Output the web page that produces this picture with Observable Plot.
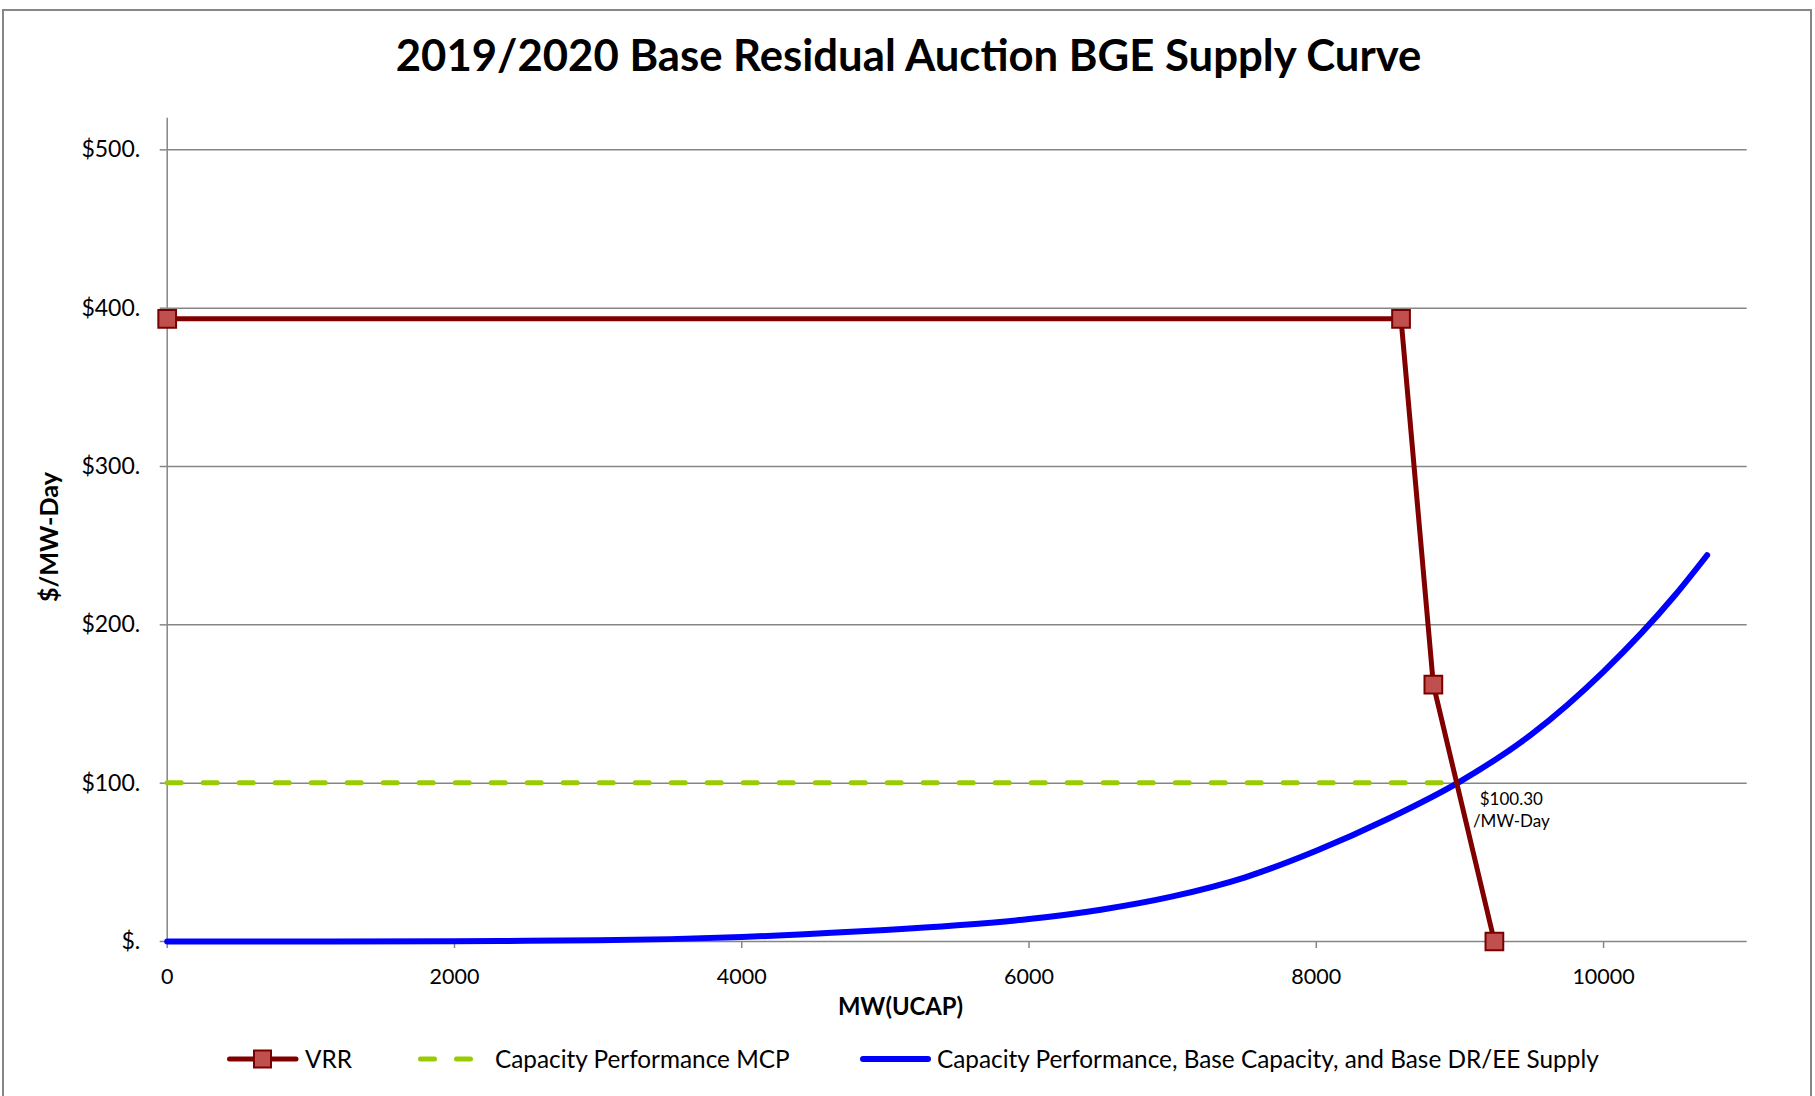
<!DOCTYPE html>
<html>
<head>
<meta charset="utf-8">
<script src="https://cdn.jsdelivr.net/npm/d3@7"></script>
<script src="https://cdn.jsdelivr.net/npm/@observablehq/plot@0.6"></script>
<style>
  html, body { margin: 0; padding: 0; background: #fff; }
  #page { position: relative; width: 1815px; height: 1096px; overflow: hidden; font-family: Lato, "Open Sans", sans-serif; color: #000; background: #fff; }
  #frame { position: absolute; left: 2px; top: 9px; width: 1810px; height: 1200px; border: 2px solid #868686; box-sizing: border-box; }
  .lbl { position: absolute; white-space: nowrap; line-height: 1; }
  #title { font-weight: bold; font-size: 43px; transform: translate(-50%, -50%); }
  #ylabel { font-weight: bold; font-size: 25px; transform: translate(-50%, -50%) rotate(-90deg); }
  #xlabel { font-weight: bold; font-size: 24px; transform: translate(-50%, -50%); }
  .legtext { font-size: 22px; transform: translateY(-50%); }
  .sw { position: absolute; overflow: visible; }
  #chart { position: absolute; left: 0; top: 100px; }
</style>
</head>
<body>
<div id="page">
  <div id="frame"></div>
  <div id="chart"></div>
</div>
<script>
// ---------- data ----------
const chartTitle = "2019/2020 Base Residual Auction BGE Supply Curve";
const xAxisTitle = "MW(UCAP)";
const yAxisTitle = "$/MW-Day";

const vrrMW    = [0, 8590, 8815, 9240];
const vrrPrice = [393.3, 393.3, 162.2, 0];

const mcpMW    = [0, 8970];
const mcpPrice = [100.30, 100.30];

const supplyMW    = [0, 1000, 2000, 2500, 3000, 3500, 4000, 4500, 5000, 5500, 6000, 6500, 7000, 7500, 8000, 8500, 9000, 9500, 10000, 10500, 10721];
const supplyPrice = [0, 0.05, 0.2, 0.4, 0.8, 1.5, 2.8, 4.9, 7.2, 10.2, 14.2, 20.1, 28.5, 40.4, 57.3, 77.5, 101, 131, 170.5, 219, 244];

const clearingMW = [8975];
const clearingPrice = [100.30];
const clearingLabel = ["$100.30\n/MW-Day"];

const xTicks = [0, 2000, 4000, 6000, 8000, 10000];
const yTicks = [0, 100, 200, 300, 400, 500];
const yTickLabels = ["$.", "$100.", "$200.", "$300.", "$400.", "$500."];

const legendNames = ["VRR", "Capacity Performance MCP", "Capacity Performance, Base Capacity, and Base DR/EE Supply"];

// ---------- tables ----------
const vrr = vrrMW.map((x, i) => ({x, y: vrrPrice[i]}));
const mcp = mcpMW.map((x, i) => ({x, y: mcpPrice[i]}));
const supply = supplyMW.map((x, i) => ({x, y: supplyPrice[i]}));
const clearing = clearingMW.map((x, i) => ({x, y: clearingPrice[i], label: clearingLabel[i]}));

const GRID = "#868686";
const VRR_LINE = "#800000", VRR_FILL = "#C0504D", VRR_EDGE = "#7A0000";
const MCP_COL = "#99CC00";
const SUP_COL = "#0000FF";

const chart = Plot.plot({
  width: 1815,
  height: 930,
  marginLeft: 166.7,
  marginRight: 68.3,
  marginTop: 17.7,
  marginBottom: 89,
  x: {domain: [0, 11000]},
  y: {domain: [0, 520]},
  style: {fontFamily: "Lato, 'Open Sans', sans-serif", fontSize: "22px", color: "#000", background: "transparent", overflow: "visible"},
  marks: [
    Plot.gridY({ticks: yTicks.filter(d => d > 0), stroke: GRID, strokeOpacity: 1, strokeWidth: 1.5}),
    Plot.ruleY([0], {stroke: GRID, strokeWidth: 1.5}),
    Plot.ruleX([0], {stroke: GRID, strokeWidth: 1.5}),
    Plot.axisX({ticks: xTicks, tickSize: 7, tickPadding: 20, stroke: GRID, strokeWidth: 1.5, fill: "#000", fontSize: 21.5, label: null, tickFormat: d => String(d)}),
    Plot.axisY({ticks: yTicks, tickSize: 7, tickPadding: 20, stroke: GRID, strokeWidth: 1.5, fill: "#000", fontSize: 23, label: null, tickFormat: d => yTickLabels[yTicks.indexOf(d)]}),
    Plot.line(mcp, {x: "x", y: "y", stroke: MCP_COL, strokeWidth: 5, strokeDasharray: "14,22", strokeLinecap: "round"}),
    Plot.line(supply, {x: "x", y: "y", stroke: SUP_COL, strokeWidth: 6, curve: "monotone-x", strokeLinecap: "round"}),
    Plot.line(vrr, {x: "x", y: "y", stroke: VRR_LINE, strokeWidth: 5}),
    Plot.dot(vrr, {x: "x", y: "y", symbol: "square", r: 10, fill: VRR_FILL, fillOpacity: 1, stroke: VRR_EDGE, strokeWidth: 2}),
    Plot.text(clearing, {x: "x", y: "y", text: "label", dx: 55, dy: 26, fontSize: 17, lineHeight: 1.3, lineAnchor: "middle", textAnchor: "middle", fill: "#000"})
  ]
});
document.getElementById("chart").appendChild(chart);

// ---------- html text ----------
const page = document.getElementById("page");
function addLabel(id, cls, text, left, top) {
  const d = document.createElement("div");
  if (id) d.id = id;
  d.className = "lbl " + (cls || "");
  d.textContent = text;
  d.style.left = left + "px";
  d.style.top = top + "px";
  page.appendChild(d);
  return d;
}
function fit(el, target) {
  const w = el.offsetWidth;
  const fs = parseFloat(getComputedStyle(el).fontSize);
  if (w > 0) el.style.fontSize = (fs * target / w) + "px";
  return parseFloat(el.style.fontSize);
}

const t = addLabel("title", "", chartTitle, 908.6, 55);
fit(t, 1026);
const yl = addLabel("ylabel", "", yAxisTitle, 49, 537);
fit(yl, 130);
const xl = addLabel("xlabel", "", xAxisTitle, 900.5, 1007);
fit(xl, 125);

// legend
const legLeft = [305, 495, 937];
const legY = 1059;
const legEls = legendNames.map((n, i) => addLabel(null, "legtext", n, legLeft[i], legY));
const fs = fit(legEls[2], 662);
legEls.forEach(e => e.style.fontSize = fs + "px");

function swatch(left, width, inner) {
  const ns = "http://www.w3.org/2000/svg";
  const s = document.createElementNS(ns, "svg");
  s.setAttribute("class", "sw");
  s.setAttribute("width", width);
  s.setAttribute("height", 30);
  s.style.left = left + "px";
  s.style.top = (legY - 15) + "px";
  s.innerHTML = inner;
  page.appendChild(s);
}
swatch(227, 72, `<line x1="2.5" y1="15" x2="69" y2="15" stroke="${VRR_LINE}" stroke-width="5" stroke-linecap="round"/>
  <rect x="27" y="6.5" width="17" height="17" fill="${VRR_FILL}" stroke="${VRR_EDGE}" stroke-width="2"/>`);
swatch(418, 60, `<line x1="2.5" y1="15" x2="60" y2="15" stroke="${MCP_COL}" stroke-width="5" stroke-dasharray="14,22" stroke-linecap="round"/>`);
swatch(860, 72, `<line x1="3" y1="15" x2="68" y2="15" stroke="${SUP_COL}" stroke-width="6" stroke-linecap="round"/>`);
</script>
</body>
</html>
